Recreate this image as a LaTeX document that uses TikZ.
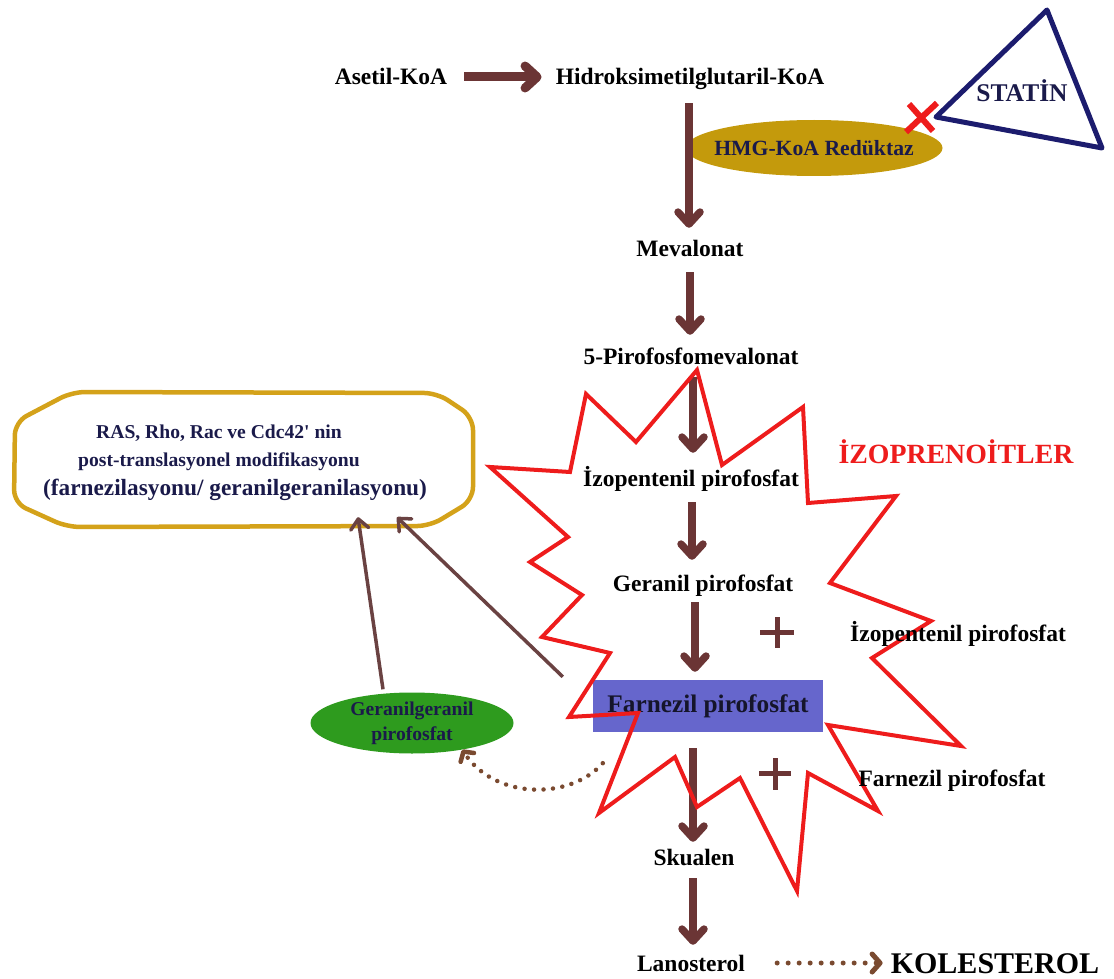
\documentclass[tikz,border=0pt]{standalone}
\usepackage{fontspec}
\setmainfont{Liberation Serif}
\usetikzlibrary{arrows.meta,shapes.geometric,calc}
\definecolor{abrown}{HTML}{6B3535}
\definecolor{tbrown}{HTML}{6A4242}
\definecolor{dbrown}{HTML}{7A4A30}
\definecolor{boxgold}{HTML}{D4A21A}
\definecolor{hmggold}{HTML}{C49A0C}
\definecolor{ggreen}{HTML}{2E9B1E}
\definecolor{fppblue}{HTML}{6666CC}
\definecolor{starred}{HTML}{EE1C1C}
\definecolor{statnavy}{HTML}{1C1C6E}
\definecolor{txtnavy}{HTML}{1A1A4A}
\definecolor{txtdark}{HTML}{15152A}
\begin{document}
\begin{tikzpicture}[x=1pt,y=-1pt,
  lbl/.style={font=\bfseries\fontsize{23.5}{28}\selectfont, inner sep=0pt, text height=16pt, text depth=5pt},
  pa/.style={draw=abrown, line width=7.5pt, -{Straight Barb[length=12pt,width=22pt,round]}},
  ta/.style={draw=tbrown, line width=3.5pt, -{Straight Barb[length=10pt,width=18pt,round]}},
  da/.style={draw=dbrown, line width=5pt, line cap=round, dash pattern=on 0pt off 11pt,
             -{Straight Barb[length=8pt,width=18pt,round,line width=5pt]}},
  boxtxt/.style={font=\bfseries\fontsize{19.6}{24}\selectfont, text=txtnavy, inner sep=0pt, anchor=base},
  plusst/.style={draw=abrown, line width=5pt},
]
\useasboundingbox (0,0) rectangle (1114,979);

% modification box
\node[minimum width=463pt, minimum height=138pt, inner sep=0pt] (mod) at (244,458.5) {};
\draw[boxgold, line width=4.5pt, rounded corners=13pt]
  (15,422) -- (72,392) -- (437,393) -- (473,417) -- (473,500) -- (430,526) -- (67,527) -- (14,503) -- cycle;
\node[boxtxt] (m1) at (219,438.6) {RAS, Rho, Rac ve Cdc42\textquotesingle{} nin};
\node[boxtxt] (m2) at (219,466.6) {post-translasyonel modifikasyonu};
\node[boxtxt, font=\bfseries\fontsize{23.3}{28}\selectfont] (m3) at (235,495) {(farnezilasyonu/ geranilgeranilasyonu)};

% enzyme
\node[ellipse, fill=hmggold, minimum width=257pt, minimum height=56pt, inner sep=0pt,
      label={[font=\bfseries\fontsize{21.7}{26}\selectfont, text=txtnavy, inner sep=0pt]center:HMG-KoA Redüktaz}] (hmg) at (814,148) {};

% pathway labels
\node[lbl] (ase) at (391,79.5) {Asetil-KoA};
\node[lbl] (hid) at (690,79.5) {Hidroksimetilglutaril-KoA};
\node[lbl] (mev) at (690,250.5) {Mevalonat};
\node[lbl] (pir) at (691,358.5) {5-Pirofosfomevalonat};
\node[lbl] (izo) at (691,480.5) {İzopentenil pirofosfat};
\node[lbl] (ger) at (703,585.5) {Geranil pirofosfat};
\node[rectangle, fill=fppblue, minimum width=230pt, minimum height=52pt, inner sep=0pt,
      font=\bfseries\fontsize{25.3}{30}\selectfont, text=txtdark] (fpp) at (708,706) {Farnezil pirofosfat};
\node[lbl] (sku) at (694,859.5) {Skualen};
\node[lbl] (lan) at (691,965.5) {Lanosterol};
\node[font=\bfseries\fontsize{30}{34}\selectfont, inner sep=0pt, text height=20pt, text depth=0pt] (kol) at (995,963) {KOLESTEROL};

% geranylgeranyl
\node[ellipse, fill=ggreen, minimum width=203pt, minimum height=61pt, inner sep=0pt,
      label={[font=\bfseries\fontsize{19.6}{25}\selectfont, text=txtnavy, align=center, inner sep=0pt]center:Geranilgeranil\\pirofosfat}] (gg) at (412,723) {};

% pathway arrows
\draw[pa, line width=9pt] ($(ase.east)+(17,-2.5)$) -- ($(hid.west)+(-14,-2.5)$);
\draw[pa] ([xshift=-1pt,yshift=-13pt]hid.south) -- ([xshift=-1pt,yshift=12pt]mev.north);
\draw[pa] ([yshift=-11pt]mev.south) -- ([xshift=-1pt,yshift=13pt]pir.north);
\draw[pa] ([xshift=2pt,yshift=-8pt]pir.south) -- ([xshift=2pt,yshift=17pt]izo.north);
\draw[pa] ([xshift=1pt,yshift=-11pt]izo.south) -- ([xshift=-11pt,yshift=15pt]ger.north);
\draw[pa] ([xshift=-8pt,yshift=-6pt]ger.south) -- ([xshift=-13pt,yshift=8pt]fpp.north);
\draw[pa] ([xshift=-15pt,yshift=-16pt]fpp.south) -- ([xshift=-1pt,yshift=7pt]sku.north);
\draw[pa] ([xshift=-1pt,yshift=-8pt]sku.south) -- ([xshift=2pt,yshift=10pt]lan.north);
\draw[da] ($(lan.east)+(32,-2.5)$) -- ($(kol.west)+(-8,0)$);

% thin arrows to modification box
\draw[ta] ([xshift=-29pt,yshift=3pt]gg.north) -- ([xshift=114pt,yshift=10.5pt]mod.south);
\draw[ta] ([xshift=-30pt,yshift=3pt]fpp.north west) -- ([xshift=153pt,yshift=10.5pt]mod.south);

% dotted curved arrow
\draw[da, line width=4.5pt, dash pattern=on 0pt off 9.5pt,
      -{Straight Barb[length=7pt,width=16pt,round,line width=4.5pt]}]
  ([xshift=10pt,yshift=-31pt]fpp.south west) .. controls +(-33,37) and +(33,50) .. (gg.-28);

% plus signs
\draw[plusst] (760,632) -- (794,632) (777,617) -- (777,648);
\draw[plusst] (759,773) -- (791,773) (775,758) -- (775,790);

% isoprenoid star
\draw[starred, line width=4pt, line join=miter]
  (697,370) -- (722,465) -- (803,407) -- (808,503) -- (896,496) -- (830,583) -- (931,621)
  -- (872,658) -- (961,746) -- (828,725) -- (878,811) -- (808,773) -- (797,891) -- (740,778)
  -- (697,807) -- (675,757) -- (599,813) -- (638,713) -- (569,717) -- (610,653) -- (542,637)
  -- (582,595) -- (530,562) -- (568,537) -- (490,467) -- (570,472) -- (586,394) -- (636,442) -- cycle;

% right side labels
\node[lbl] (izr) at (958,635.5) {İzopentenil pirofosfat};
\node[lbl] (fzr) at (952,780.5) {Farnezil pirofosfat};
\node[font=\bfseries\fontsize{27.8}{32}\selectfont, text=starred, inner sep=0pt, anchor=base] (izp) at (956,463) {İZOPRENOİTLER};

% statin
\draw[statnavy, line width=5pt, line join=round] (1047,10) -- (936,117) -- (1102,148) -- cycle;
\node[font=\bfseries\fontsize{25.5}{30}\selectfont, text=txtnavy, inner sep=0pt, anchor=base] (stat) at (1022,101.5) {STATİN};
\draw[starred, line width=6pt] (906,132) -- (937,103) (909,104) -- (933,131);
\end{tikzpicture}
\end{document}
